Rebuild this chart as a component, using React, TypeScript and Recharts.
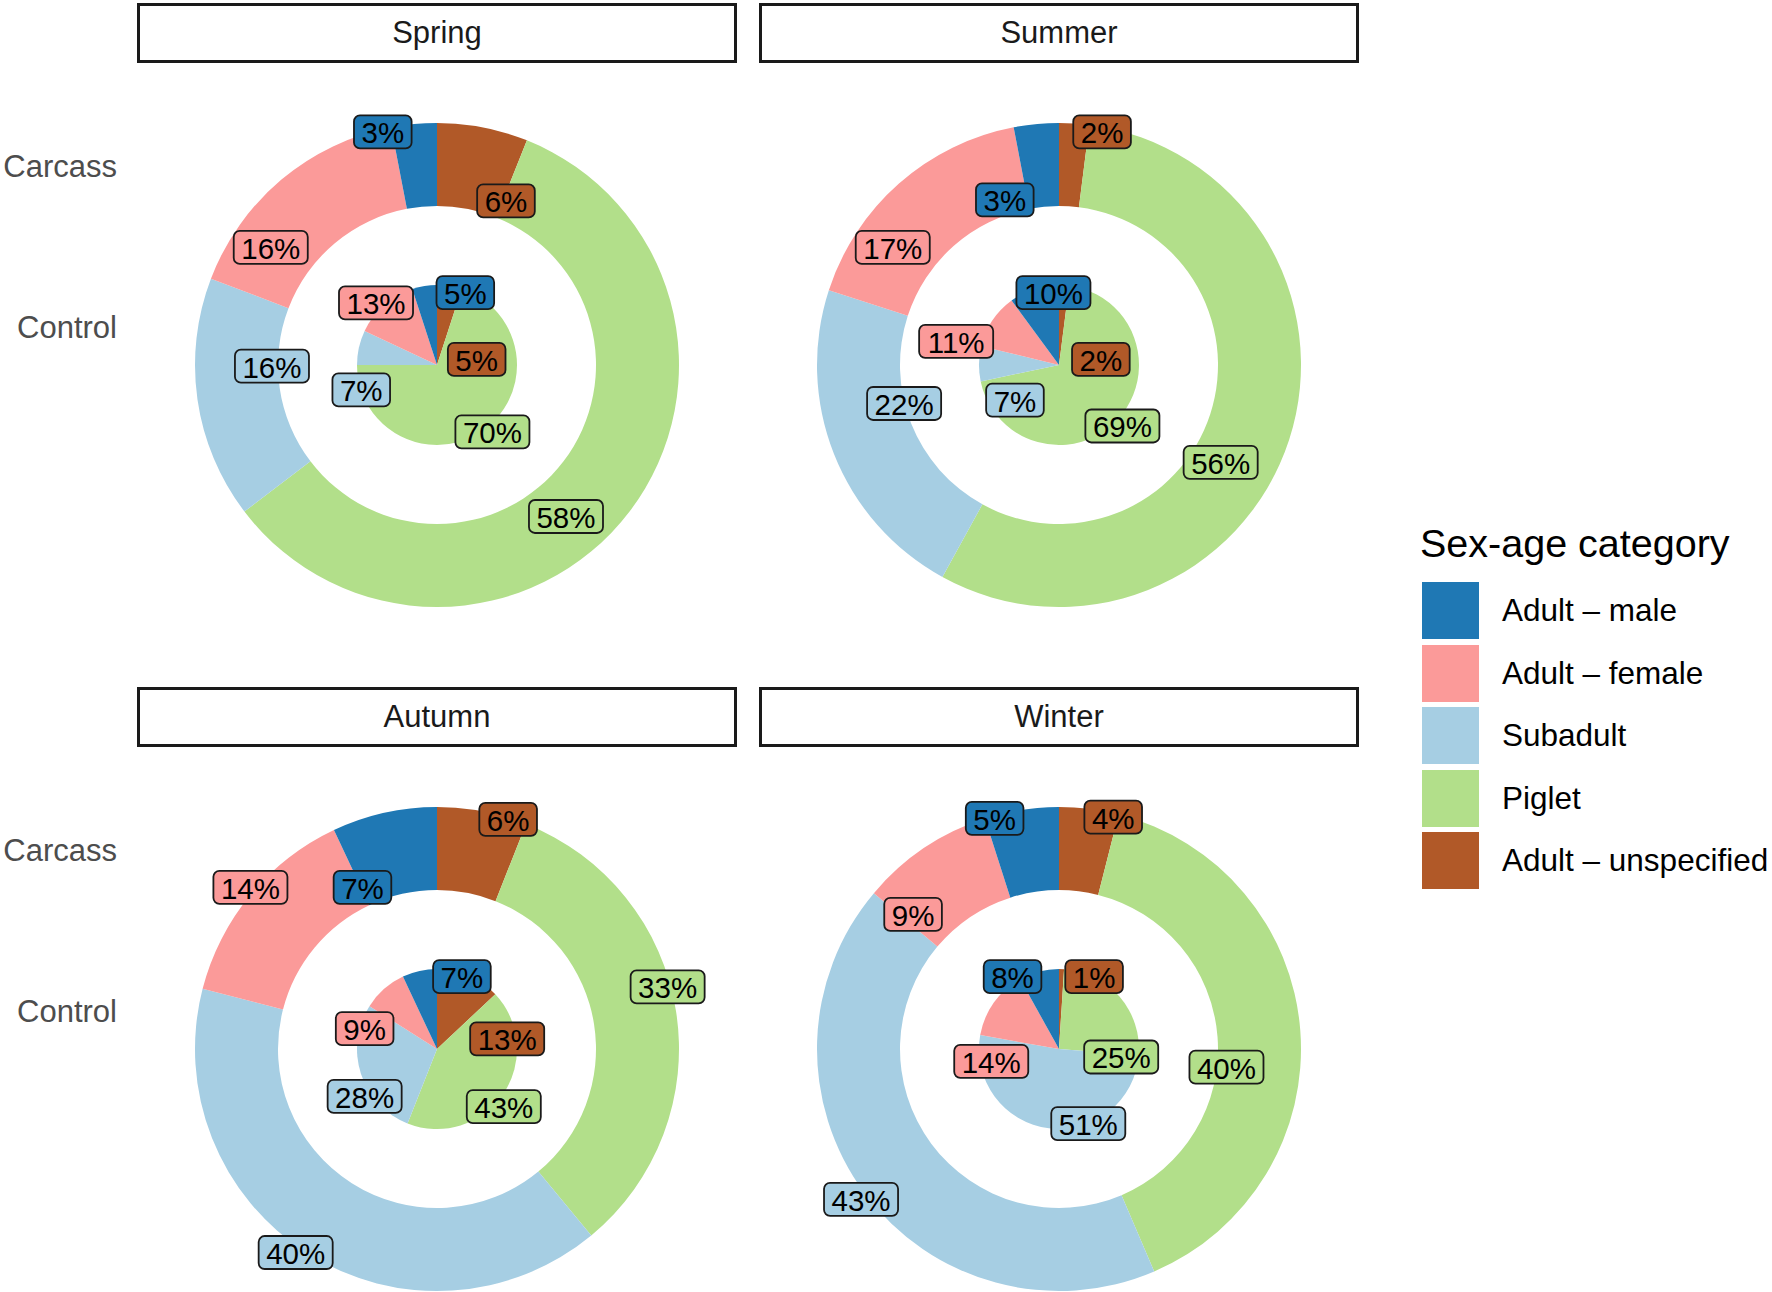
import React from 'react';
import { PieChart, Pie, Cell } from 'recharts';

// categories in legend order
const CATEGORIES = ['Adult – male', 'Adult – female', 'Subadult', 'Piglet', 'Adult – unspecified'];
const COLORS = ['#1F78B4', '#FB9A99', '#A6CEE3', '#B2DF8A', '#B15928'];
const SEASONS = ['Spring', 'Summer', 'Autumn', 'Winter'];
const TYPES = ['Carcass', 'Control'];

// percentages, same order as CATEGORIES
const springCarcass = [3, 16, 16, 58, 6];
const springControl = [5, 13, 7, 70, 5];
const summerCarcass = [3, 17, 22, 56, 2];
const summerControl = [10, 11, 7, 69, 2];
const autumnCarcass = [7, 14, 40, 33, 6];
const autumnControl = [7, 9, 28, 43, 13];
const winterCarcass = [5, 9, 43, 40, 4];
const winterControl = [8, 14, 51, 25, 1];

const CARCASS = [springCarcass, summerCarcass, autumnCarcass, winterCarcass];
const CONTROL = [springControl, summerControl, autumnControl, winterControl];

// repelled label spots, offset from pie centre in units of the outer radius
const LABEL_OFFSETS: Record<string, [number, number][]> = {
  'Spring-Carcass': [[-0.224, -0.963], [-0.687, -0.486], [-0.682, 0.005], [0.533, 0.626], [0.285, -0.678]],
  'Spring-Control': [[0.117, -0.299], [-0.252, -0.257], [-0.313, 0.103], [0.229, 0.276], [0.164, -0.023]],
  'Summer-Carcass': [[-0.224, -0.682], [-0.687, -0.486], [-0.64, 0.159], [0.668, 0.402], [0.178, -0.963]],
  'Summer-Control': [[-0.023, -0.299], [-0.425, -0.098], [-0.182, 0.145], [0.262, 0.252], [0.173, -0.023]],
  'Autumn-Carcass': [[-0.308, -0.668], [-0.771, -0.668], [-0.584, 0.841], [0.953, -0.257], [0.294, -0.949]],
  'Autumn-Control': [[0.103, -0.299], [-0.299, -0.084], [-0.299, 0.196], [0.276, 0.238], [0.29, -0.042]],
  'Winter-Carcass': [[-0.266, -0.953], [-0.603, -0.556], [-0.818, 0.621], [0.692, 0.075], [0.224, -0.958]],
  'Winter-Control': [[-0.192, -0.299], [-0.28, 0.051], [0.121, 0.308], [0.257, 0.033], [0.145, -0.299]],
};

const FONT = '"Liberation Sans", Arial, Helvetica, sans-serif';
const W = 1772;
const H = 1292;
const R_OUT = 242;
const R_RING = 159;
const R_PIE = 80;
const LABEL_FONT = 29.5;

const PANEL_X = [137, 759];
const PANEL_Y = [3, 687];
const PANEL_W = 600;
const STRIP_H = 60;
const CENTER_DX = 300;
const CENTER_DY = 362;

// stacking order of ggplot: last level starts at 12 o'clock
const STACK = [4, 3, 2, 1, 0];

const buildRows = (values: number[]) =>
  STACK.map((c) => ({ cat: c, name: CATEGORIES[c], value: values[c] }));

const textWidth = (s: string) =>
  s.split('').reduce((w, ch) => w + (ch === '%' ? 0.889 : 0.556), 0) * LABEL_FONT;

const makeLabel = (key: string) => (props: any) => {
  const { cx, cy, payload } = props;
  const cat = payload?.cat ?? props.cat;
  const value = payload?.value ?? props.value;
  const off = LABEL_OFFSETS[key][cat];
  const x = cx + off[0] * R_OUT;
  const y = cy + off[1] * R_OUT;
  const txt = `${value}%`;
  const bw = textWidth(txt) + 15;
  const bh = 33;
  return (
    <g key={`${key}-${cat}`}>
      <rect
        x={x - bw / 2}
        y={y - bh / 2}
        width={bw}
        height={bh}
        rx={6}
        ry={6}
        fill={COLORS[cat]}
        stroke="#1a1a1a"
        strokeWidth={1.8}
      />
      <text
        x={x}
        y={y + 1}
        textAnchor="middle"
        dominantBaseline="central"
        fontFamily={FONT}
        fontSize={LABEL_FONT}
        fill="#000"
      >
        {txt}
      </text>
    </g>
  );
};

export default function App() {
  return (
    <div style={{ position: 'absolute', left: 0, top: 0, width: W, height: H, background: '#fff', fontFamily: FONT }}>
      <PieChart width={W} height={H} margin={{ top: 0, right: 0, bottom: 0, left: 0 }}>
        {SEASONS.map((season, i) => {
          const cx = PANEL_X[i % 2] + CENTER_DX;
          const cy = PANEL_Y[Math.floor(i / 2)] + CENTER_DY;
          return [
            <Pie
              key={`${season}-carcass`}
              data={buildRows(CARCASS[i])}
              dataKey="value"
              nameKey="name"
              cx={cx}
              cy={cy}
              innerRadius={R_RING}
              outerRadius={R_OUT}
              startAngle={90}
              endAngle={-270}
              stroke="none"
              isAnimationActive={false}
              labelLine={false}
              label={makeLabel(`${season}-Carcass`)}
            >
              {STACK.map((c) => (
                <Cell key={c} fill={COLORS[c]} />
              ))}
            </Pie>,
            <Pie
              key={`${season}-control`}
              data={buildRows(CONTROL[i])}
              dataKey="value"
              nameKey="name"
              cx={cx}
              cy={cy}
              innerRadius={0}
              outerRadius={R_PIE}
              startAngle={90}
              endAngle={-270}
              stroke="none"
              isAnimationActive={false}
              labelLine={false}
              label={makeLabel(`${season}-Control`)}
            >
              {STACK.map((c) => (
                <Cell key={c} fill={COLORS[c]} />
              ))}
            </Pie>,
          ];
        })}
      </PieChart>

      {SEASONS.map((season, i) => (
        <div
          key={season}
          style={{
            position: 'absolute',
            left: PANEL_X[i % 2],
            top: PANEL_Y[Math.floor(i / 2)],
            width: PANEL_W,
            height: STRIP_H,
            boxSizing: 'border-box',
            border: '3px solid #1a1a1a',
            display: 'flex',
            alignItems: 'center',
            justifyContent: 'center',
            fontSize: 31,
            color: '#1a1a1a',
          }}
        >
          {season}
        </div>
      ))}

      {PANEL_Y.map((py) =>
        TYPES.map((t, j) => (
          <div
            key={`${py}-${t}`}
            style={{
              position: 'absolute',
              right: W - 117,
              top: py + (j === 0 ? 164 : 325) - 20,
              height: 40,
              lineHeight: '40px',
              fontSize: 31,
              color: '#4d4d4d',
              whiteSpace: 'nowrap',
            }}
          >
            {t}
          </div>
        ))
      )}

      <div style={{ position: 'absolute', left: 1420, top: 518, fontSize: 39.5, lineHeight: '50px', color: '#000', whiteSpace: 'nowrap' }}>
        Sex-age category
      </div>
      {CATEGORIES.map((c, i) => (
        <div key={c} style={{ position: 'absolute', left: 1422, top: 582 + i * 62.5, height: 57, display: 'flex', alignItems: 'center' }}>
          <div style={{ width: 57, height: 57, background: COLORS[i] }} />
          <div style={{ marginLeft: 23, fontSize: 31.5, color: '#000', whiteSpace: 'nowrap' }}>{c}</div>
        </div>
      ))}
    </div>
  );
}
